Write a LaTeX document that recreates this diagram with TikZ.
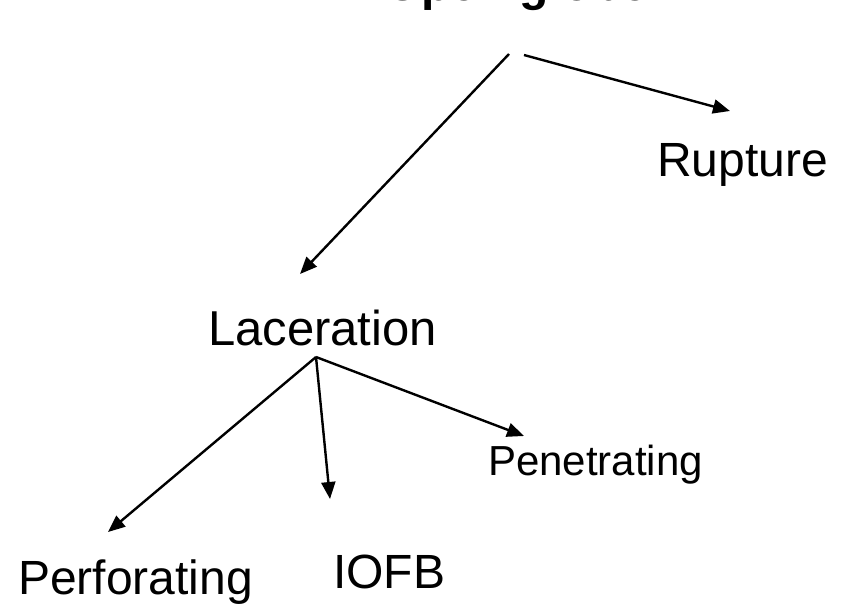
\documentclass[tikz,border=0pt]{standalone}
\usepackage{fontspec}
\setmainfont{Liberation Sans}
\usetikzlibrary{arrows.meta}
\begin{document}
\begin{tikzpicture}[x=1pt,y=-1pt,
  lbl/.style={inner sep=0pt,anchor=base west,font=\fontsize{48}{52}\selectfont},
  arr/.style={line width=2.4pt,-{Triangle[length=17pt,width=14pt]}}]
\useasboundingbox (0,0) rectangle (848,605);
\node[inner sep=0pt,anchor=base,font=\fontsize{48}{52}\selectfont\bfseries] (globe) at (516,1) {Open globe};
\node[lbl] (rup) at (657,176) {Rupture};
\node[lbl,font=\fontsize{49}{53}\selectfont] (lac) at (208,345) {Laceration};
\node[lbl,font=\fontsize{42}{46}\selectfont] (pen) at (488,475) {Penetrating};
\node[lbl] (iofb) at (333,588) {IOFB};
\node[lbl] (perf) at (18,594) {Perforating};
\coordinate (g1) at (509,54);
\coordinate (g2) at (524,55);
\coordinate (lacIn) at (300,274);
\coordinate (rupIn) at (730,111);
\coordinate (lacOut) at (316,357);
\coordinate (perfIn) at (108,532);
\coordinate (iofbIn) at (330,499);
\coordinate (penIn) at (524,436);
\draw[arr] (g1) -- (lacIn);
\draw[arr] (g2) -- (rupIn);
\draw[arr] (lacOut) -- (perfIn);
\draw[arr] (lacOut) -- (iofbIn);
\draw[arr] (lacOut) -- (penIn);
\end{tikzpicture}
\end{document}
